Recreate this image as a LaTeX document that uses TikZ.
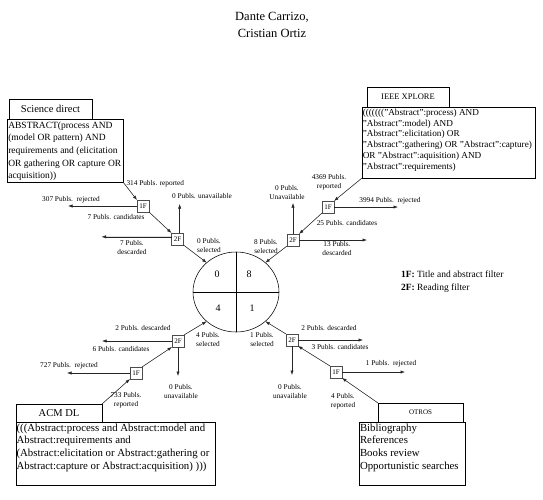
\documentclass[tikz,border=0pt]{standalone}
\usepackage{fontspec}
\setmainfont{Liberation Serif}
\usetikzlibrary{arrows.meta,shapes.geometric}
\newcommand\myfs[2]{\fontsize{#1}{#2}\selectfont}
\begin{document}
\begin{tikzpicture}[x=1pt,y=-1pt,
  every node/.style={inner sep=0pt, outer sep=0pt},
  rbox/.style={draw, line width=0.55pt},
  fbox/.style={draw=black!70, line width=0.9pt, fill=white, minimum size=12pt, font=\myfs{7}{8}},
  arr/.style={-{Latex[length=4.5pt,width=3.2pt]}, line width=0.5pt, draw=black!85, fill=black},
  lab/.style={font=\myfs{7.3}{9}, align=center},
  btext/.style={anchor=north west, align=left}]
\useasboundingbox (0,0) rectangle (543,499);

% title
\node[font=\myfs{12.5}{17}, align=center] (title) at (272,24.5) {Dante Carrizo,\\Cristian Ortiz};

% ---------- Science direct ----------
\node[rbox, anchor=north west, minimum width=116, minimum height=63] (sdC) at (7,119) {};
\node[rbox, anchor=south west, minimum width=83, minimum height=20, font=\myfs{10.5}{12}] (sdH) at (9,119) {Science direct};
\node[btext, font=\myfs{9.5}{12.7}] (sdT) at (8.3,121.5) {ABSTRACT(process AND\\(model OR pattern) AND\\requirements and (elicitation\\OR gathering OR capture OR\\acquisition))};

% ---------- IEEE ----------
\node[rbox, anchor=north west, minimum width=173, minimum height=71] (ieC) at (362,107) {};
\node[rbox, anchor=south west, minimum width=82, minimum height=20, font=\myfs{8.5}{10}] (ieH) at (367,107) {IEEE XPLORE};
\node[btext, font=\myfs{9.2}{10.8}] (ieT) at (362.8,109) {((((((("Abstract":process) AND\\"Abstract":model) AND\\"Abstract":elicitation) OR\\"Abstract":gathering) OR "Abstract":capture)\\OR "Abstract":aquisition) AND\\"Abstract":requirements)};

% ---------- ACM ----------
\node[rbox, anchor=north west, minimum width=199, minimum height=63] (aC) at (16,422) {};
\node[rbox, anchor=south west, minimum width=86, minimum height=18, font=\myfs{10.5}{12}] (aH) at (16,422) {ACM DL};
\node[btext, font=\myfs{10.8}{12.7}] (aT) at (16.6,423.5) {(((Abstract:process and Abstract:model and\\Abstract:requirements and\\(Abstract:elicitation or Abstract:gathering or\\Abstract:capture or Abstract:acquisition) )))};

% ---------- OTROS ----------
\node[rbox, anchor=north west, minimum width=106, minimum height=63] (oC) at (359,422) {};
\node[rbox, anchor=south west, minimum width=85, minimum height=19, font=\myfs{7}{8}] (oH) at (378,422) {OTROS};
\node[btext, font=\myfs{10.8}{12.7}] (oT) at (360,423.5) {Bibliography\\References\\Books review\\Opportunistic searches};

% ---------- central circle ----------
\node[draw, ellipse, line width=0.55pt, minimum width=86, minimum height=80] (circ) at (236,292) {};
\draw[line width=0.5pt] (circ.north) -- (circ.south);
\draw[line width=0.5pt] (circ.west) -- (circ.east);
\node[font=\myfs{10}{12}] (n0) at (217,274) {0};
\node[font=\myfs{10}{12}] (n8) at (249,274) {8};
\node[font=\myfs{10}{12}] (n4) at (218,308) {4};
\node[font=\myfs{10}{12}] (n1) at (252,308) {1};

% ---------- filters ----------
\node[fbox] (s1) at (143,206) {1F};
\node[fbox] (s2) at (177.5,239) {2F};
\node[fbox] (i1) at (328,207) {1F};
\node[fbox] (i2) at (293,240) {2F};
\node[fbox] (a1) at (136,373) {1F};
\node[fbox] (a2) at (178,341) {2F};
\node[fbox] (o1) at (336,372) {1F};
\node[fbox] (o2) at (292,340) {2F};

% ---------- Science direct flow ----------
\draw[arr] (sdC.south east) -- (s1.north west);
\draw[arr] (s1.south east) -- (s2.north west);
\coordinate (s1rej) at (68,206);
\draw[arr] (s1.west) -- (s1rej);
\path (s2.70) ++(0,-29) coordinate (s2un);
\draw[arr] (s2.70) -- (s2un);
\path (s2.160) ++(-70,0) coordinate (s2des);
\draw[arr] (s2.160) -- (s2des);
\draw[arr] (s2.south east) -- (circ.135);
\node[lab, anchor=west] (l314) at (126.5,184) {314 Publs. reported};
\node[lab] (l307) at (71,200) {307 Publs.~~rejected};
\node[lab] (ls0u) at (202,196) {0 Publs. unavailable};
\node[lab] (ls7c) at (116,217) {7 Publs. candidates};
\node[lab] (ls7d) at (132,247) {7 Publs.\\descarded};
\node[lab] (ls0s) at (209,245) {0 Publs.\\selected};

% ---------- IEEE flow ----------
\draw[arr] (ieC.south west) -- (i1.north east);
\draw[arr] (i1.south west) -- (i2.north east);
\coordinate (i1rej) at (398,207);
\draw[arr] (i1.east) -- (i1rej);
\path (i2.north) ++(0,-31) coordinate (i2un);
\draw[arr] (i2.north) -- (i2un);
\path (i2.east) ++(68,0) coordinate (i2des);
\draw[arr] (i2.east) -- (i2des);
\draw[arr] (i2.south west) -- (circ.45);
\node[lab] (l4369) at (329,182) {4369 Publs.\\reported};
\node[lab] (l3994) at (390,201) {3994 Publs.~~rejected};
\node[lab] (li25) at (347,223) {25 Publs. candidates};
\node[lab] (li0u) at (287,192) {0 Publs.\\Unavailable};
\node[lab] (li13) at (337,248) {13 Publs.\\descarded};
\node[lab] (li8s) at (266,246) {8 Publs.\\selected};

% ---------- ACM flow ----------
\draw[arr] (aH.north east) -- (a1.south west);
\draw[arr] (a1.north east) -- (a2.south west);
\coordinate (a1rej) at (67,373);
\draw[arr] (a1.west) -- (a1rej);
\coordinate (a2des) at (102,341);
\draw[arr] (a2.west) -- (a2des);
\path (a2.south) ++(0,29) coordinate (a2un);
\draw[arr] (a2.south) -- (a2un);
\draw[arr] (a2.north east) -- (circ.225);
\node[lab] (l727) at (69,366) {727 Publs.~~rejected};
\node[lab] (la2d) at (143,328) {2 Publs. descarded};
\node[lab] (la6c) at (121,349) {6 Publs. candidates};
\node[lab] (la0u) at (181,391) {0 Publs.\\unavailable};
\node[lab] (la4s) at (208,339) {4 Publs.\\selected};
\node[lab] (l733) at (126,400) {733 Publs.\\reported};

% ---------- OTROS flow ----------
\draw[arr] (oH.north west) -- (o1.south east);
\draw[arr] (o1.north west) -- (o2.south east);
\coordinate (o1rej) at (405,372);
\draw[arr] (o1.east) -- (o1rej);
\coordinate (o2des) at (363,340);
\draw[arr] (o2.east) -- (o2des);
\path (o2.south) ++(0,29) coordinate (o2un);
\draw[arr] (o2.south) -- (o2un);
\draw[arr] (o2.north west) -- (circ.315);
\node[lab] (l1rej) at (391,364) {1 Publs.~~rejected};
\node[lab] (lo2d) at (329,328) {2 Publs. descarded};
\node[lab] (lo3c) at (340,347) {3 Publs. candidates};
\node[lab] (lo0u) at (290,391) {0 Publs.\\unavailable};
\node[lab] (lo1s) at (262,339) {1 Publs.\\selected};
\node[lab] (l4rep) at (343,401) {4 Publs.\\reported};

% ---------- legend ----------
\node[anchor=west, align=left, font=\myfs{9.5}{13}] (legend) at (401,282) {\textbf{1F:} Title and abstract filter\\\textbf{2F:} Reading filter};
\end{tikzpicture}
\end{document}
